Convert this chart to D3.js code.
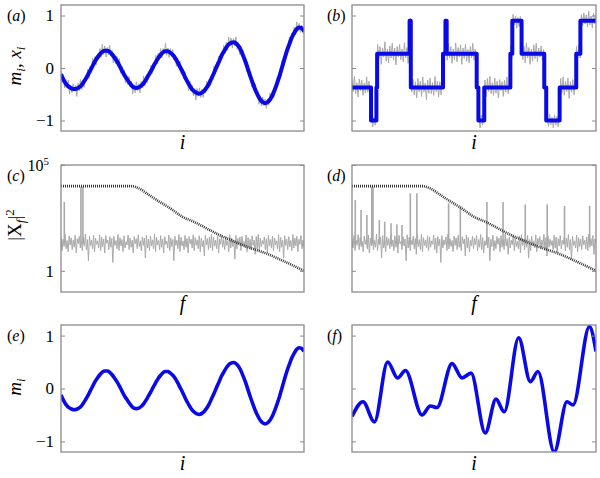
<!DOCTYPE html>
<html>
<head>
<meta charset="utf-8">
<script src="https://cdn.jsdelivr.net/npm/d3@7"></script>
<style>
  body { margin: 0; background: #fff; }
</style>
</head>
<body>
<svg id="fig" width="600" height="478"></svg>
<script>
// ---- data ----
// smooth signal m_i, sampled every 10 steps of i (0..1000)
const M_STEP = 10;
const mValues = [-0.12,-0.22,-0.30,-0.35,-0.38,-0.40,-0.40,-0.38,-0.35,-0.29,
  -0.22,-0.14,-0.05,0.04,0.13,0.20,0.26,0.31,0.33,0.33,
  0.31,0.26,0.20,0.13,0.05,-0.04,-0.13,-0.20,-0.27,-0.33,
  -0.37,-0.38,-0.37,-0.34,-0.29,-0.22,-0.14,-0.06,0.03,0.11,
  0.19,0.25,0.30,0.32,0.32,0.29,0.25,0.19,0.11,0.02,
  -0.07,-0.17,-0.26,-0.34,-0.41,-0.45,-0.48,-0.49,-0.47,-0.43,
  -0.37,-0.29,-0.19,-0.09,0.02,0.12,0.23,0.31,0.39,0.45,
  0.48,0.49,0.47,0.42,0.34,0.23,0.11,-0.03,-0.17,-0.30,
  -0.42,-0.52,-0.60,-0.65,-0.67,-0.65,-0.60,-0.52,-0.41,-0.28,
  -0.14,0.02,0.18,0.33,0.46,0.58,0.67,0.74,0.77,0.76,0.70];

// noisy observations x_i, sampled every 5 steps
const X_STEP = 5;
const xA = [-0.07,-0.27,-0.16,-0.38,-0.22,-0.38,-0.23,-0.50,-0.34,-0.47,
  -0.30,-0.43,-0.33,-0.54,-0.29,-0.43,-0.22,-0.41,-0.24,-0.37,
  -0.14,-0.22,-0.02,-0.20,0.01,-0.09,0.19,0.04,0.22,0.06,
  0.27,0.19,0.37,0.21,0.45,0.26,0.42,0.21,0.39,0.25,
  0.43,0.24,0.34,0.10,0.25,0.08,0.23,0.03,0.18,-0.10,
  0.03,-0.14,-0.04,-0.29,-0.14,-0.32,-0.16,-0.36,-0.25,-0.49,
  -0.32,-0.47,-0.26,-0.43,-0.30,-0.47,-0.25,-0.38,-0.15,-0.34,
  -0.16,-0.28,-0.06,-0.14,0.05,-0.11,0.10,0.01,0.24,0.08,
  0.28,0.17,0.37,0.19,0.37,0.27,0.47,0.24,0.38,0.20,
  0.37,0.22,0.35,0.15,0.24,0.03,0.19,0.01,0.13,-0.12,
  -0.01,-0.20,-0.07,-0.27,-0.19,-0.43,-0.25,-0.44,-0.33,-0.53,
  -0.39,-0.61,-0.39,-0.54,-0.38,-0.56,-0.40,-0.56,-0.37,-0.47,
  -0.25,-0.38,-0.21,-0.34,-0.13,-0.22,0.04,-0.10,0.11,0.00,
  0.23,0.13,0.31,0.18,0.43,0.29,0.49,0.34,0.59,0.42,
  0.57,0.38,0.56,0.42,0.59,0.36,0.48,0.26,0.42,0.24,
  0.33,0.09,0.18,-0.07,0.03,-0.17,-0.08,-0.36,-0.25,-0.44,
  -0.31,-0.53,-0.44,-0.69,-0.53,-0.72,-0.55,-0.71,-0.59,-0.77,
  -0.59,-0.71,-0.48,-0.62,-0.43,-0.57,-0.34,-0.40,-0.17,-0.29,
  -0.08,-0.15,0.14,0.04,0.26,0.16,0.40,0.35,0.59,0.45,
  0.67,0.57,0.78,0.63,0.88,0.71,0.85,0.68,0.82,0.66,0.75];

// piecewise-constant signal (b): breakpoints and levels
const stepI = [0,78,100,103,236,241,373,383,388,511,518,542,649,657,695,788,796,851,919,936,1000];
const stepV = [-0.37,-1,-0.37,0.27,0.9,-0.37,0.27,0.9,0.27,-0.37,-1,-0.37,0.27,0.9,0.27,-0.37,-1,-0.37,0.27,0.9,0.9];

const xB = [-0.22,-0.45,-0.16,-0.49,-0.28,-0.55,-0.21,-0.43,-0.23,-0.52,
  -0.29,-0.48,-0.17,-0.46,-0.25,-0.51,-0.91,-1.12,-0.94,-1.09,
  -0.29,0.45,0.18,0.41,0.07,0.38,0.21,0.50,0.13,0.36,
  0.10,0.42,0.19,0.47,0.15,0.38,0.06,0.41,0.21,0.45,
  0.16,0.36,0.12,0.48,0.19,0.39,0.09,0.42,0.95,-0.46,
  -0.22,-0.51,-0.26,-0.57,-0.20,-0.45,-0.25,-0.54,-0.17,-0.46,
  -0.29,-0.60,-0.23,-0.48,-0.19,-0.49,-0.28,-0.52,-0.16,-0.45,
  -0.25,-0.55,-0.26,-0.51,-0.20,0.18,0.42,0.93,0.15,0.47,
  0.19,0.41,0.09,0.36,0.16,0.48,0.12,0.39,0.21,0.44,
  0.07,0.38,0.18,0.45,0.13,0.35,0.10,0.41,0.19,0.47,
  0.15,0.36,0.12,-0.27,-0.92,-1.14,-0.90,-1.09,-0.94,-0.23,
  -0.55,-0.20,-0.45,-0.16,-0.49,-0.28,-0.52,-0.19,-0.48,-0.25,
  -0.57,-0.22,-0.43,-0.26,-0.54,-0.23,-0.46,-0.17,-0.49,-0.29,
  0.42,0.18,1.02,0.82,0.99,0.76,0.96,0.79,0.98,0.45,
  0.16,0.41,0.10,0.48,0.19,0.39,0.07,0.36,0.13,0.44,
  0.18,0.47,0.12,0.38,0.21,0.42,0.15,0.35,-0.28,-0.51,
  -0.91,-1.11,-0.88,-1.08,-0.94,-1.14,-0.89,-1.09,-0.92,-1.12,
  -0.91,-0.20,-0.48,-0.17,-0.52,-0.25,-0.45,-0.19,-0.58,-0.26,
  -0.46,-0.22,-0.51,-0.28,0.41,0.18,0.44,0.19,1.02,0.81,
  1.05,0.84,1.01,0.78,1.08,0.82,0.99,0.76,1.04,0.84,0.98];

// prior spectrum (dotted), frequency as fraction of the axis
const priorF = [0,0.29,0.32,0.36,0.40,0.45,0.50,0.55,0.60,0.65,0.70,0.75,0.80,0.85,0.90,0.95,1.0];
const priorP = [10000,10000,7900,4000,2000,890,355,200,100,50,28,16,10,6.3,3.5,1.9,1];

// data power spectra |X_f|^2 (noise floor), evenly spaced in f
const specC = [40,9,31,14,52,11,27,8,45,17,36,10,29,13,48,7,33,19,42,12,
  25,9,38,15,55,10,30,3,44,16,28,11,47,8,35,18,26,12,50,9,
  39,14,32,7,46,20,29,10,41,13,34,2.5,43,16,27,11,53,9,37,15,
  30,8,45,12,24,17,49,10,36,13,28,7,42,19,33,11,51,14,26,9,
  40,16,35,4,47,12,31,9,44,15,29,11,54,8,38,17,27,10,46,13,
  32,7,41,18,25,12,49,9,36,14,30,3,43,16,28,11,52,8,39,15,
  26,10,47,13,34,7,42,19,31,12,50,9,37,16,29,11,45,8,35,14,
  27,5,48,17,33,10,40,12,53,9,38,15,28,11,44,7,32,18,46,13,
  30,10,41,16,26,8,51,12,36,14,29,3.5,47,11,34,17,39,9,43,15,
  25,12,49,8,37,13,31,10,45,16,28,6,42,11,54,9,35,14,27,18,
  40,10,33,7,48,15,30,12,44,9,36,17,26,11,50,8,38,13,29,4,
  46,16,32,10,41,14,27,9,52,12,35,15,43,8,31,18,47,11,28,13];
const specD = [33,12,47,9,28,16,51,10,37,14,25,8,44,18,30,11,49,7,35,15,
  42,10,27,13,54,9,31,17,39,4,46,12,26,8,40,16,33,11,52,14,
  29,9,45,13,36,7,48,19,24,10,41,15,32,3,50,12,38,9,27,17,
  43,11,34,6,47,14,30,10,53,8,37,16,28,12,45,9,39,13,26,18,
  49,10,35,7,42,15,31,2.5,46,12,29,17,40,9,55,11,33,14,27,8,
  44,16,36,10,48,13,25,9,41,19,32,5,50,12,38,8,28,15,43,11,
  34,17,47,9,30,13,52,10,37,7,26,16,45,12,39,3,31,14,49,9,
  27,11,42,18,35,8,46,13,29,10,54,15,33,6,40,12,28,17,48,9,
  36,14,25,11,44,7,51,16,32,10,38,13,47,4,30,9,43,15,26,12,
  50,8,34,17,41,11,29,14,53,9,37,5,45,13,31,16,27,10,48,12,
  39,7,33,15,46,11,28,18,42,9,35,13,52,10,30,3.5,44,16,26,12,
  49,8,37,14,31,10,45,17,28,11,40,9,54,13,34,15,47,6,32,19];

// spectral peaks (f, power)
const peaksC = [[0.0136,1800],[0.082,9500],[0.090,9500]];
const peaksD = [[0.0135,2200],[0.037,740],[0.061,430],[0.081,9500],[0.086,9500],
  [0.112,250],[0.134,210],[0.160,175],[0.184,155],[0.205,145],[0.239,4600],[0.266,4600],
  [0.396,1550],[0.444,1070],[0.553,1800],[0.619,1800],[0.710,1380],[0.800,1380],
  [0.871,1170],[0.974,1170]];

// smooth signal (f): knots
const fI = [0,45,92,146,187,219,287,321,348,410,451,488,546,590,624,683,731,762,829,881,906,973,1000];
const fV = [-0.53,-0.25,-0.63,0.50,0.20,0.34,-0.50,-0.33,-0.36,0.47,0.20,0.29,-0.84,-0.20,-0.44,0.96,0.13,0.32,-1.20,-0.25,-0.31,1.17,0.70];

const linTicks = [-1, 0, 1];
const logTicks = [1, 1e5];

// ---- layout ----
const COLS = [[61, 304], [352, 596]];
const ROWS = [[5, 131], [165, 292], [325, 452]];
const BLUE = "#0a0ae6";
const GRAY = "#a9a9a9";
const FRAME = "#8a8a8a";
const SERIF = '"Liberation Serif"';

const svg = d3.select("#fig");
let clipId = 0;

function serifText(sel) {
  return sel.style("font-family", SERIF).attr("fill", "#000");
}

function panel(col, row, opts) {
  const [x0, x1] = COLS[col];
  const [y0, y1] = ROWS[row];
  const x = d3.scaleLinear().domain(opts.xDomain).range([x0, x1]);
  const y = (opts.log ? d3.scaleLog() : d3.scaleLinear()).domain(opts.yDomain).range([y1, y0]);
  const g = svg.append("g");

  const id = "clip" + (clipId++);
  g.append("clipPath").attr("id", id)
    .append("rect").attr("x", x0).attr("y", y0).attr("width", x1 - x0).attr("height", y1 - y0);
  const plot = g.append("g").attr("clip-path", `url(#${id})`);

  // inward ticks on both sides
  const left = d3.axisLeft(y).tickValues(opts.ticks).tickSize(-4).tickPadding(7)
    .tickFormat(col === 0 ? (opts.log ? (d => d === 1 ? "1" : "10") : d3.format("d")) : "");
  const la = g.append("g").attr("transform", `translate(${x0},0)`).call(left);
  const ra = g.append("g").attr("transform", `translate(${x1},0)`)
    .call(d3.axisRight(y).tickValues(opts.ticks).tickSize(-4).tickFormat(""));
  [la, ra].forEach(a => {
    a.select(".domain").remove();
    a.selectAll(".tick line").attr("stroke", FRAME);
    serifText(a.selectAll(".tick text")).attr("font-size", 17);
  });
  if (opts.log && col === 0) {
    const top = la.selectAll(".tick text").filter(d => d === 1e5);
    top.attr("x", -12).attr("font-size", 16);
    top.append("tspan").attr("dy", "-0.5em").attr("font-size", 11).text("5");
  }

  g.append("rect").attr("x", x0).attr("y", y0).attr("width", x1 - x0).attr("height", y1 - y0)
    .attr("fill", "none").attr("stroke", FRAME).attr("stroke-width", 1.3);

  // panel letter
  const lt = serifText(g.append("text")).attr("x", col === 0 ? 7 : 327).attr("y", y0 + 15.5)
    .attr("font-size", 16);
  lt.append("tspan").text("(");
  lt.append("tspan").attr("font-style", "italic").text(opts.letter);
  lt.append("tspan").text(")");

  // x label
  serifText(g.append("text")).attr("x", (x0 + x1) / 2).attr("y", y1 + 18)
    .attr("text-anchor", "middle").attr("font-size", 20).attr("font-style", "italic")
    .text(opts.xLabel);

  return { g, plot, x, y };
}

function yLabel(cy, build) {
  const t = serifText(svg.append("text")).attr("transform", `translate(21,${cy}) rotate(-90)`)
    .attr("text-anchor", "middle").attr("font-size", 19);
  build(t);
}

// ---- row 1: time series ----
const pa = panel(0, 0, { xDomain: [0, 1000], yDomain: [-1.2, 1.2], ticks: linTicks, letter: "a", xLabel: "i" });
pa.plot.append("path").datum(xA)
  .attr("fill", "none").attr("stroke", GRAY).attr("stroke-width", 1)
  .attr("d", d3.line().x((d, k) => pa.x(k * X_STEP)).y(d => pa.y(d)));
pa.plot.append("path").datum(mValues)
  .attr("fill", "none").attr("stroke", BLUE).attr("stroke-width", 4)
  .attr("d", d3.line().x((d, k) => pa.x(k * M_STEP)).y(d => pa.y(d)).curve(d3.curveMonotoneX));

const pb = panel(1, 0, { xDomain: [0, 1000], yDomain: [-1.2, 1.2], ticks: linTicks, letter: "b", xLabel: "i" });
pb.plot.append("path").datum(xB)
  .attr("fill", "none").attr("stroke", GRAY).attr("stroke-width", 1)
  .attr("d", d3.line().x((d, k) => pb.x(k * X_STEP)).y(d => pb.y(d)));
pb.plot.append("path").datum(stepI.map((v, k) => [v, stepV[k]]))
  .attr("fill", "none").attr("stroke", BLUE).attr("stroke-width", 4).attr("stroke-linejoin", "round")
  .attr("d", d3.line().x(d => pb.x(d[0])).y(d => pb.y(d[1])).curve(d3.curveStepAfter));

// ---- row 2: spectra ----
function spectrum(p, spec, peaks) {
  p.plot.append("path").datum(spec)
    .attr("fill", "none").attr("stroke", GRAY).attr("stroke-width", 1)
    .attr("d", d3.line().x((d, k) => p.x(k / (spec.length - 1))).y(d => p.y(d)));
  p.plot.selectAll("line.peak").data(peaks).join("line").attr("class", "peak")
    .attr("x1", d => p.x(d[0])).attr("x2", d => p.x(d[0]))
    .attr("y1", p.y(18)).attr("y2", d => p.y(d[1]))
    .attr("stroke", GRAY).attr("stroke-width", 1.6);
  p.plot.append("path").datum(priorF.map((f, k) => [f, priorP[k]]))
    .attr("fill", "none").attr("stroke", "#333").attr("stroke-width", 2.6)
    .attr("stroke-dasharray", "1,1")
    .attr("d", d3.line().x(d => p.x(d[0])).y(d => p.y(d[1])).curve(d3.curveMonotoneX));
}
const pc = panel(0, 1, { xDomain: [0, 1], yDomain: [0.1, 1e5], log: true, ticks: logTicks, letter: "c", xLabel: "f" });
spectrum(pc, specC, peaksC);
const pd = panel(1, 1, { xDomain: [0, 1], yDomain: [0.1, 1e5], log: true, ticks: logTicks, letter: "d", xLabel: "f" });
spectrum(pd, specD, peaksD);

// ---- row 3: recovered signals ----
const pe = panel(0, 2, { xDomain: [0, 1000], yDomain: [-1.2, 1.2], ticks: linTicks, letter: "e", xLabel: "i" });
pe.plot.append("path").datum(mValues)
  .attr("fill", "none").attr("stroke", BLUE).attr("stroke-width", 3.6)
  .attr("d", d3.line().x((d, k) => pe.x(k * M_STEP)).y(d => pe.y(d)).curve(d3.curveMonotoneX));

const pf = panel(1, 2, { xDomain: [0, 1000], yDomain: [-1.2, 1.2], ticks: linTicks, letter: "f", xLabel: "i" });
pf.plot.append("path").datum(fI.map((v, k) => [v, fV[k]]))
  .attr("fill", "none").attr("stroke", BLUE).attr("stroke-width", 3.6)
  .attr("d", d3.line().x(d => pf.x(d[0])).y(d => pf.y(d[1])).curve(d3.curveMonotoneX));

// ---- y labels ----
yLabel(66, t => {
  t.append("tspan").attr("font-style", "italic").text("m");
  t.append("tspan").attr("font-style", "italic").attr("font-size", 13).attr("dy", 4).text("i");
  t.append("tspan").attr("dy", -4).text(", ");
  t.append("tspan").attr("font-style", "italic").text("x");
  t.append("tspan").attr("font-style", "italic").attr("font-size", 13).attr("dy", 4).text("i");
});
yLabel(225, t => {
  t.append("tspan").text("|X");
  t.append("tspan").attr("font-style", "italic").attr("font-size", 13).attr("dy", 4).text("f");
  t.append("tspan").attr("dy", -4).text("|");
  t.append("tspan").attr("font-size", 13).attr("dy", -7).text("2");
});
yLabel(387, t => {
  t.append("tspan").attr("font-style", "italic").text("m");
  t.append("tspan").attr("font-style", "italic").attr("font-size", 13).attr("dy", 4).text("i");
});
</script>
</body>
</html>
